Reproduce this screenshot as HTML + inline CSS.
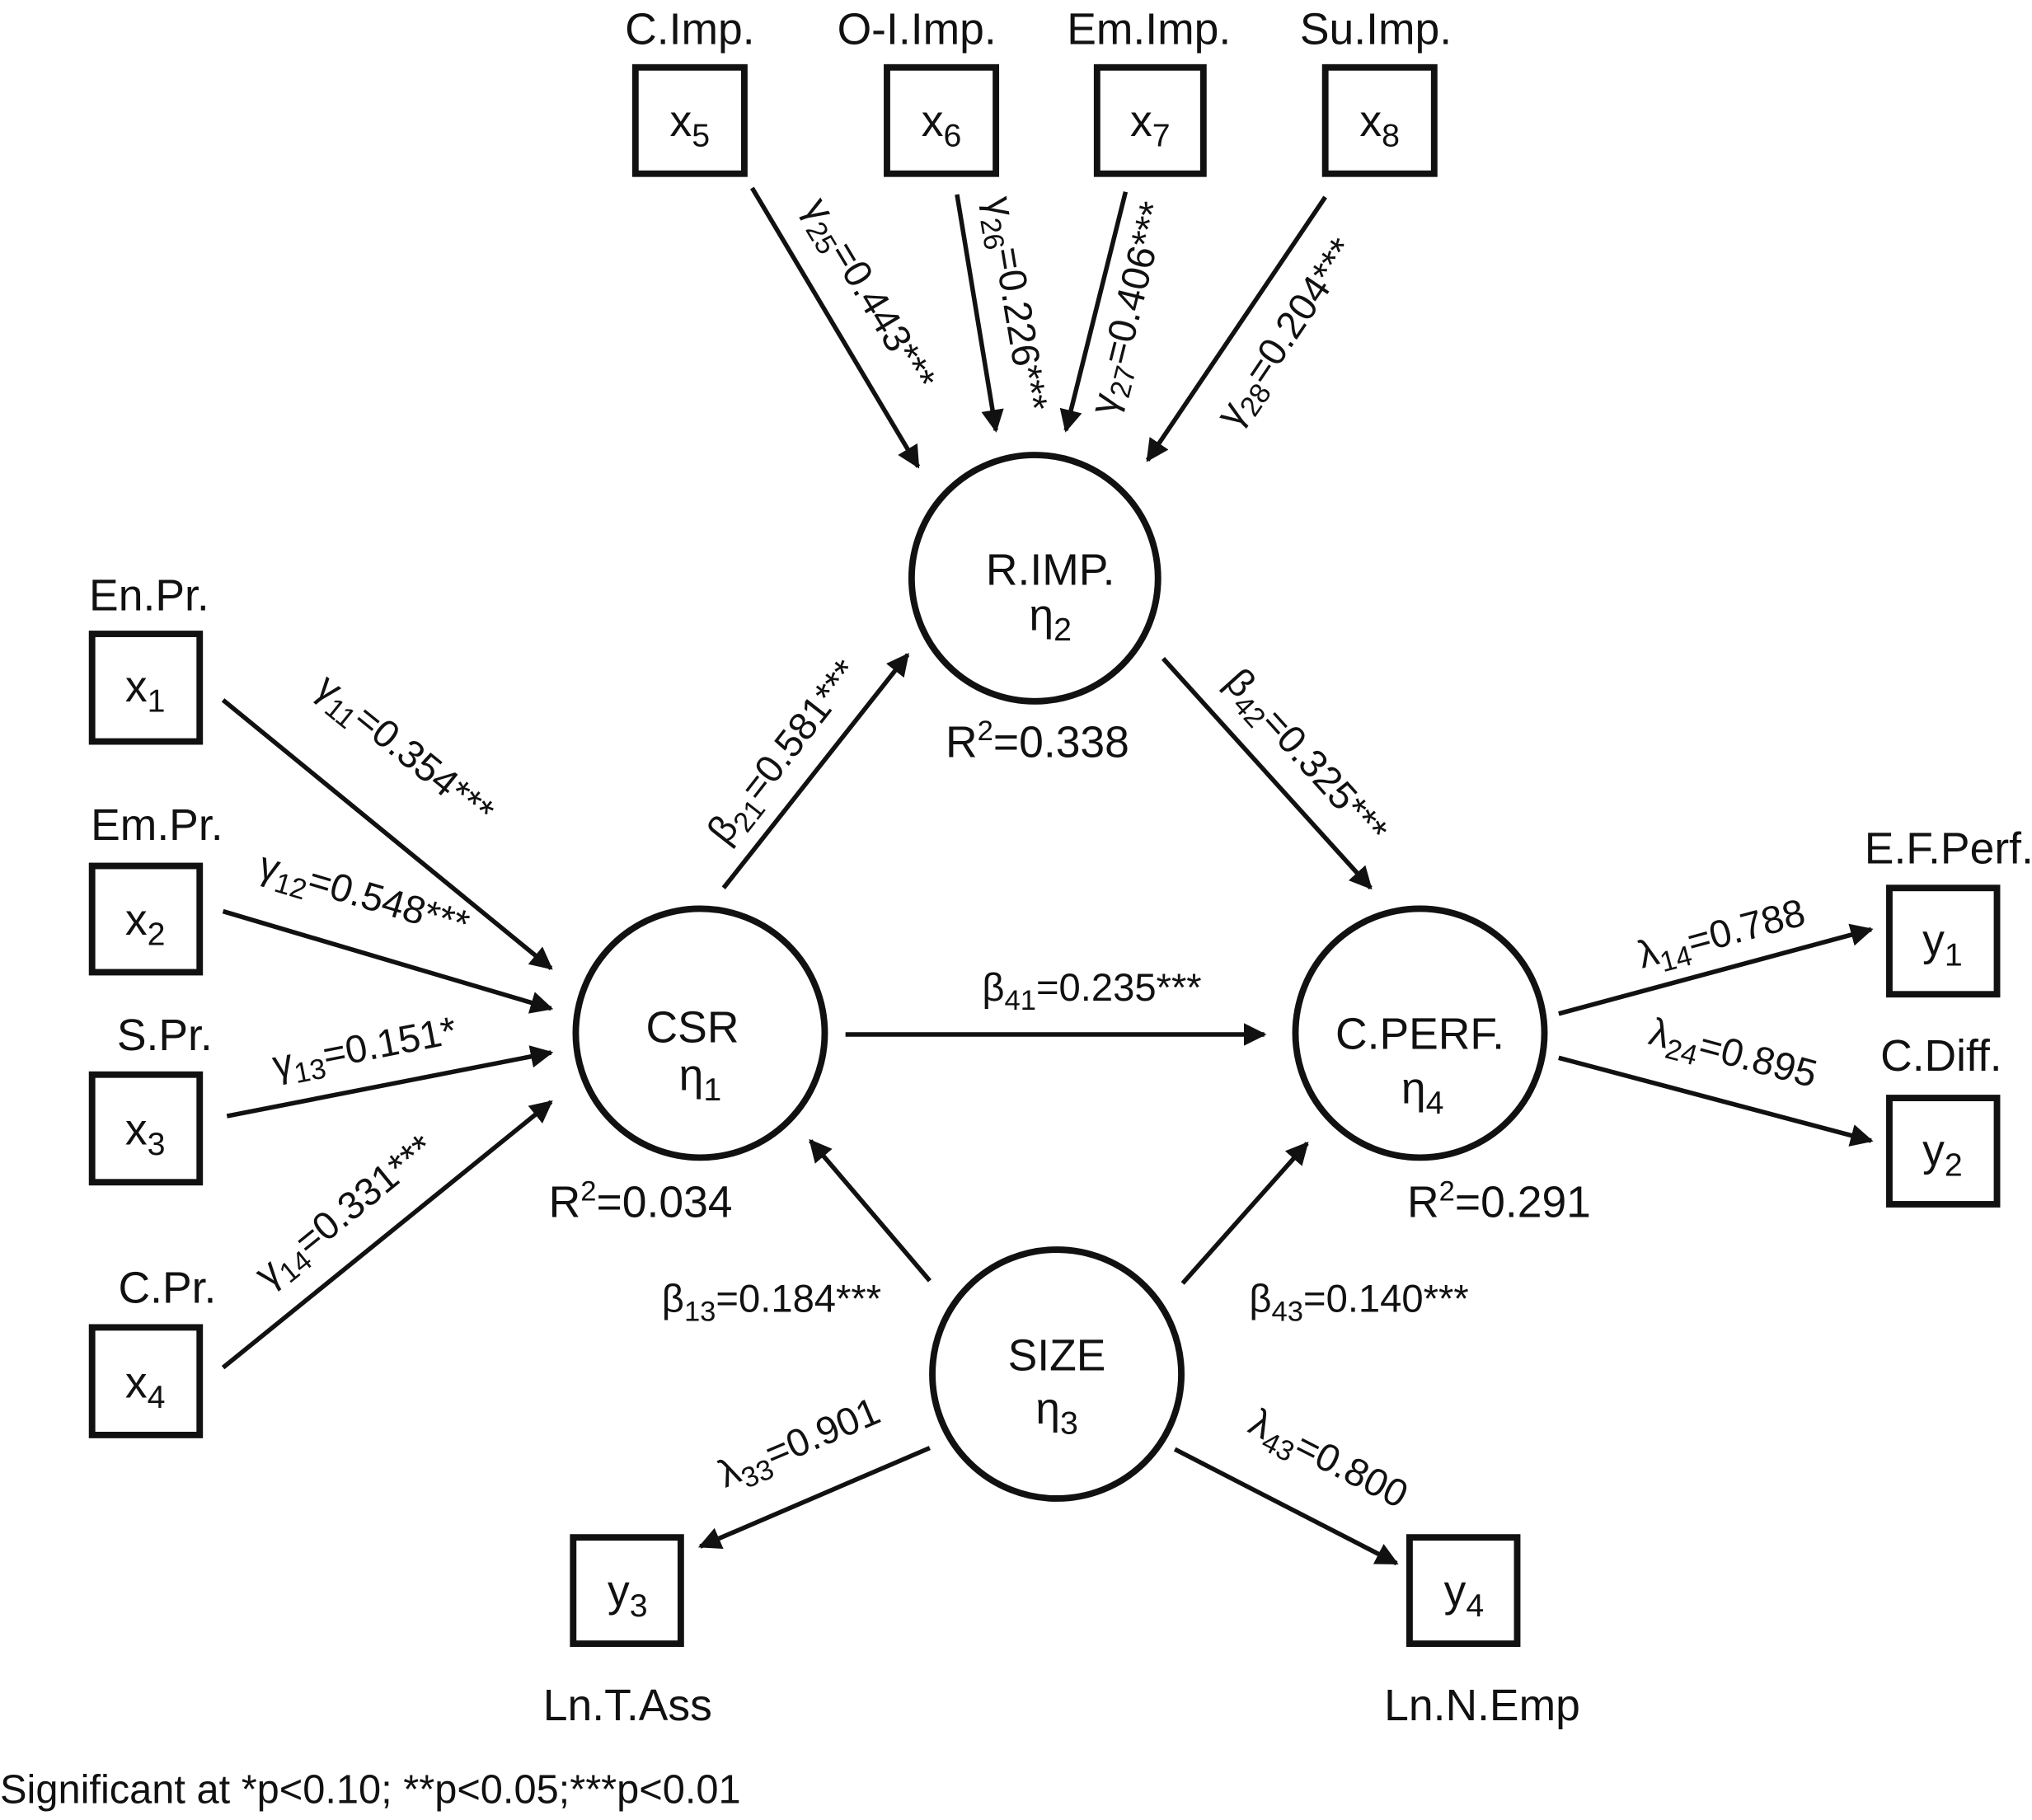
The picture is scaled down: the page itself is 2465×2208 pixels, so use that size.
<!DOCTYPE html>
<html><head><meta charset="utf-8"><style>
html,body{margin:0;padding:0;background:#fff;}
svg{display:block;}
text{font-family:"Liberation Sans",Arial,sans-serif;fill:#111;}
</style></head><body>
<svg width="2465" height="2208" viewBox="0 0 1567 1404" preserveAspectRatio="none" xmlns="http://www.w3.org/2000/svg">
<defs>
<marker id="a" viewBox="0 0 10 10" refX="9" refY="5" markerWidth="5" markerHeight="5" orient="auto" markerUnits="strokeWidth">
<path d="M0,0 L10,5 L0,10 z" fill="#111"/></marker>
</defs>
<g fill="none" stroke="#111" stroke-width="5">
<rect x="490" y="52" width="84" height="82"/>
<rect x="684" y="52" width="84" height="82"/>
<rect x="846" y="52" width="82" height="82"/>
<rect x="1022" y="52" width="84" height="82"/>
<rect x="71" y="489" width="83" height="83"/>
<rect x="71" y="668" width="83" height="82"/>
<rect x="71" y="829" width="83" height="83"/>
<rect x="71" y="1024" width="83" height="83"/>
<rect x="1457" y="685" width="83" height="82"/>
<rect x="1457" y="847" width="83" height="82"/>
<rect x="442" y="1186" width="83" height="82"/>
<rect x="1087" y="1186" width="83" height="82"/>
<circle cx="798" cy="446" r="95"/>
<circle cx="540" cy="797" r="96"/>
<circle cx="1095" cy="797" r="96"/>
<circle cx="815" cy="1060" r="96"/>
</g>
<g stroke="#111" stroke-width="3.5" marker-end="url(#a)">
<line x1="580" y1="145" x2="708" y2="360"/>
<line x1="738" y1="150" x2="768" y2="332"/>
<line x1="868" y1="148" x2="822" y2="332"/>
<line x1="1022" y1="152" x2="885" y2="355"/>
<line x1="172" y1="540" x2="425" y2="747"/>
<line x1="172" y1="703" x2="425" y2="778"/>
<line x1="175" y1="861" x2="425" y2="812"/>
<line x1="172" y1="1055" x2="425" y2="850"/>
<line x1="558" y1="685" x2="700" y2="505"/>
<line x1="897" y1="508" x2="1057" y2="685"/>
<line x1="652" y1="798" x2="975" y2="798"/>
<line x1="717" y1="988" x2="625" y2="880"/>
<line x1="912" y1="990" x2="1008" y2="882"/>
<line x1="717" y1="1117" x2="540" y2="1193"/>
<line x1="906" y1="1118" x2="1077" y2="1206"/>
<line x1="1202" y1="782" x2="1443" y2="717"/>
<line x1="1202" y1="816" x2="1443" y2="880"/>
</g>
<g font-size="34" text-anchor="middle">
<text x="532" y="34">C.Imp.</text>
<text x="707" y="34">O-I.Imp.</text>
<text x="886" y="34">Em.Imp.</text>
<text x="1061" y="34">Su.Imp.</text>
<text x="532" y="105">x<tspan font-size="25" dy="8">5</tspan></text>
<text x="726" y="105">x<tspan font-size="25" dy="8">6</tspan></text>
<text x="887" y="105">x<tspan font-size="25" dy="8">7</tspan></text>
<text x="1064" y="105">x<tspan font-size="25" dy="8">8</tspan></text>
<text x="115" y="471">En.Pr.</text>
<text x="121" y="648">Em.Pr.</text>
<text x="127" y="810">S.Pr.</text>
<text x="129" y="1005">C.Pr.</text>
<text x="112" y="541">x<tspan font-size="25" dy="8">1</tspan></text>
<text x="112" y="721">x<tspan font-size="25" dy="8">2</tspan></text>
<text x="112" y="883">x<tspan font-size="25" dy="8">3</tspan></text>
<text x="112" y="1078">x<tspan font-size="25" dy="8">4</tspan></text>
<text x="1503" y="666">E.F.Perf.</text>
<text x="1497" y="826">C.Diff.</text>
<text x="1498" y="737">y<tspan font-size="25" dy="8">1</tspan></text>
<text x="1498" y="899">y<tspan font-size="25" dy="8">2</tspan></text>
<text x="484" y="1239">y<tspan font-size="25" dy="8">3</tspan></text>
<text x="1129" y="1239">y<tspan font-size="25" dy="8">4</tspan></text>
<text x="484" y="1327">Ln.T.Ass</text>
<text x="1143" y="1327">Ln.N.Emp</text>
<text x="810" y="451">R.IMP.</text>
<text x="810" y="486">η<tspan font-size="25" dy="8">2</tspan></text>
<text x="534" y="804">CSR</text>
<text x="540" y="841">η<tspan font-size="25" dy="8">1</tspan></text>
<text x="1095" y="809">C.PERF.</text>
<text x="1097" y="851">η<tspan font-size="25" dy="8">4</tspan></text>
<text x="815" y="1057">SIZE</text>
<text x="815" y="1098">η<tspan font-size="25" dy="8">3</tspan></text>
<text x="800" y="584">R<tspan font-size="22" dy="-13">2</tspan><tspan dy="13">=0.338</tspan></text>
<text x="494" y="939">R<tspan font-size="22" dy="-13">2</tspan><tspan dy="13">=0.034</tspan></text>
<text x="1156" y="939">R<tspan font-size="22" dy="-13">2</tspan><tspan dy="13">=0.291</tspan></text>
</g>
<g font-size="30" text-anchor="middle">
<text transform="translate(662,232) rotate(59)">γ<tspan font-size="22" dy="7">25</tspan><tspan dy="-7">=0.443***</tspan></text>
<text transform="translate(774,236) rotate(80.6)">γ<tspan font-size="22" dy="7">26</tspan><tspan dy="-7">=0.226***</tspan></text>
<text transform="translate(880,240) rotate(-76)">γ<tspan font-size="22" dy="7">27</tspan><tspan dy="-7">=0.406***</tspan></text>
<text transform="translate(1000,262) rotate(-56)">γ<tspan font-size="22" dy="7">28</tspan><tspan dy="-7">=0.204***</tspan></text>
<text transform="translate(306,586) rotate(39)">γ<tspan font-size="22" dy="7">11</tspan><tspan dy="-7">=0.354***</tspan></text>
<text transform="translate(278,700) rotate(16.5)">γ<tspan font-size="22" dy="7">12</tspan><tspan dy="-7">=0.548***</tspan></text>
<text transform="translate(283,818) rotate(-11)">γ<tspan font-size="22" dy="7">13</tspan><tspan dy="-7">=0.151*</tspan></text>
<text transform="translate(272,942) rotate(-39)">γ<tspan font-size="22" dy="7">14</tspan><tspan dy="-7">=0.331***</tspan></text>
<text transform="translate(612,586) rotate(-52)">β<tspan font-size="22" dy="7">21</tspan><tspan dy="-7">=0.581***</tspan></text>
<text transform="translate(1000,590) rotate(48)">β<tspan font-size="22" dy="7">42</tspan><tspan dy="-7">=0.325***</tspan></text>
<text x="842" y="772">β<tspan font-size="22" dy="7">41</tspan><tspan dy="-7">=0.235***</tspan></text>
<text x="595" y="1012">β<tspan font-size="22" dy="7">13</tspan><tspan dy="-7">=0.184***</tspan></text>
<text x="1048" y="1012">β<tspan font-size="22" dy="7">43</tspan><tspan dy="-7">=0.140***</tspan></text>
<text transform="translate(620,1122) rotate(-23)">λ<tspan font-size="22" dy="7">33</tspan><tspan dy="-7">=0.901</tspan></text>
<text transform="translate(1020,1134) rotate(27)">λ<tspan font-size="22" dy="7">43</tspan><tspan dy="-7">=0.800</tspan></text>
<text transform="translate(1330,730) rotate(-15)">λ<tspan font-size="22" dy="7">14</tspan><tspan dy="-7">=0.788</tspan></text>
<text transform="translate(1334,822) rotate(15)">λ<tspan font-size="22" dy="7">24</tspan><tspan dy="-7">=0.895</tspan></text>
</g>
<text x="0" y="1391" font-size="31">Significant at *p&lt;0.10; **p&lt;0.05;***p&lt;0.01</text>
</svg>
</body></html>
